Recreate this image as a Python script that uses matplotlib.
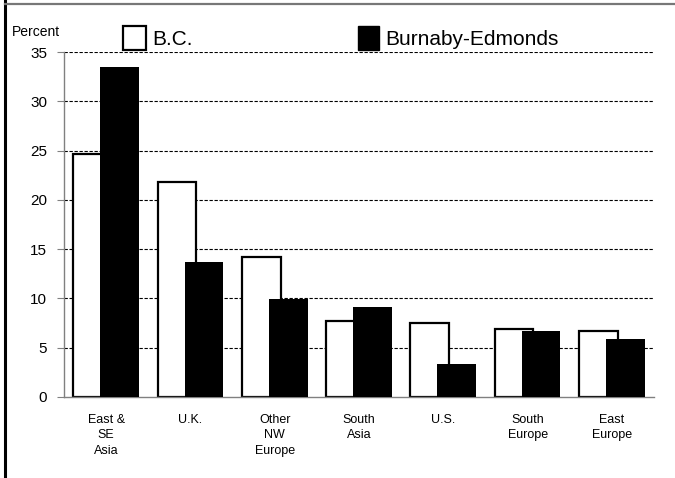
import matplotlib
matplotlib.use('Agg')
import matplotlib.pyplot as plt
import numpy as np
from matplotlib.lines import Line2D
from matplotlib.patches import Patch

categories = ['East &\nSE\nAsia', 'U.K.', 'Other\nNW\nEurope', 'South\nAsia', 'U.S.',
              'South\nEurope', 'East\nEurope']
bc = [24.7, 21.8, 14.2, 7.7, 7.5, 6.9, 6.7]
burnaby = [33.5, 13.7, 9.9, 9.1, 3.3, 6.7, 5.9]
yticks = [0, 5, 10, 15, 20, 25, 30, 35]

plt.rcParams['font.family'] = ['Liberation Sans', 'DejaVu Sans']

fig = plt.figure(figsize=(6.75, 4.78), dpi=100)
ax = fig.add_axes([64 / 675, 1 - 397 / 478, 590 / 675, 345 / 478])

x = np.arange(len(categories))
w = 0.46
ax.bar(x - 0.16, bc, w, color='white', edgecolor='black', linewidth=1.6, zorder=2)
ax.bar(x + 0.16, burnaby, w, color='black', edgecolor='black', linewidth=0, zorder=3)

ax.set_xlim(-0.5, len(categories) - 0.5)
ax.set_ylim(0, 35)
ax.set_yticks(yticks)
ax.set_xticks(x)
ax.set_xticklabels(categories, fontsize=9, linespacing=1.4)
ax.tick_params(axis='x', length=0, pad=12)
ax.tick_params(axis='y', labelsize=11, length=5, width=0.8, color='#808080', pad=7)

for t in yticks[1:]:
    ax.axhline(t, color='black', linewidth=0.8, linestyle=(0, (3, 1.5)), zorder=1)

for s in ['top', 'right']:
    ax.spines[s].set_visible(False)
for s in ['left', 'bottom']:
    ax.spines[s].set_color('#808080')
    ax.spines[s].set_linewidth(1.0)

fig.text(12 / 675, 1 - 32 / 478, 'Percent', fontsize=10, ha='left', va='center')

fig.legend(handles=[Patch(facecolor='white', edgecolor='black', linewidth=1.6)],
           labels=['B.C.'], loc='center left', bbox_to_anchor=(123 / 675, 1 - 38 / 478),
           frameon=False, fontsize=15, handlelength=1.1, handleheight=1.35,
           handletextpad=0.3, borderpad=0, borderaxespad=0)
fig.legend(handles=[Patch(facecolor='black', edgecolor='black')],
           labels=['Burnaby-Edmonds'], loc='center left', bbox_to_anchor=(358 / 675, 1 - 38 / 478),
           frameon=False, fontsize=15, handlelength=1.0, handleheight=1.35,
           handletextpad=0.3, borderpad=0, borderaxespad=0)

# frame lines left over from the original page
fig.add_artist(Line2D([5 / 675, 5 / 675], [0, 1], color='black', linewidth=2.2))
fig.add_artist(Line2D([5 / 675, 1], [1 - 4 / 478, 1 - 4 / 478], color='#777777', linewidth=1.6))

fig.savefig('out.png', dpi=100)
